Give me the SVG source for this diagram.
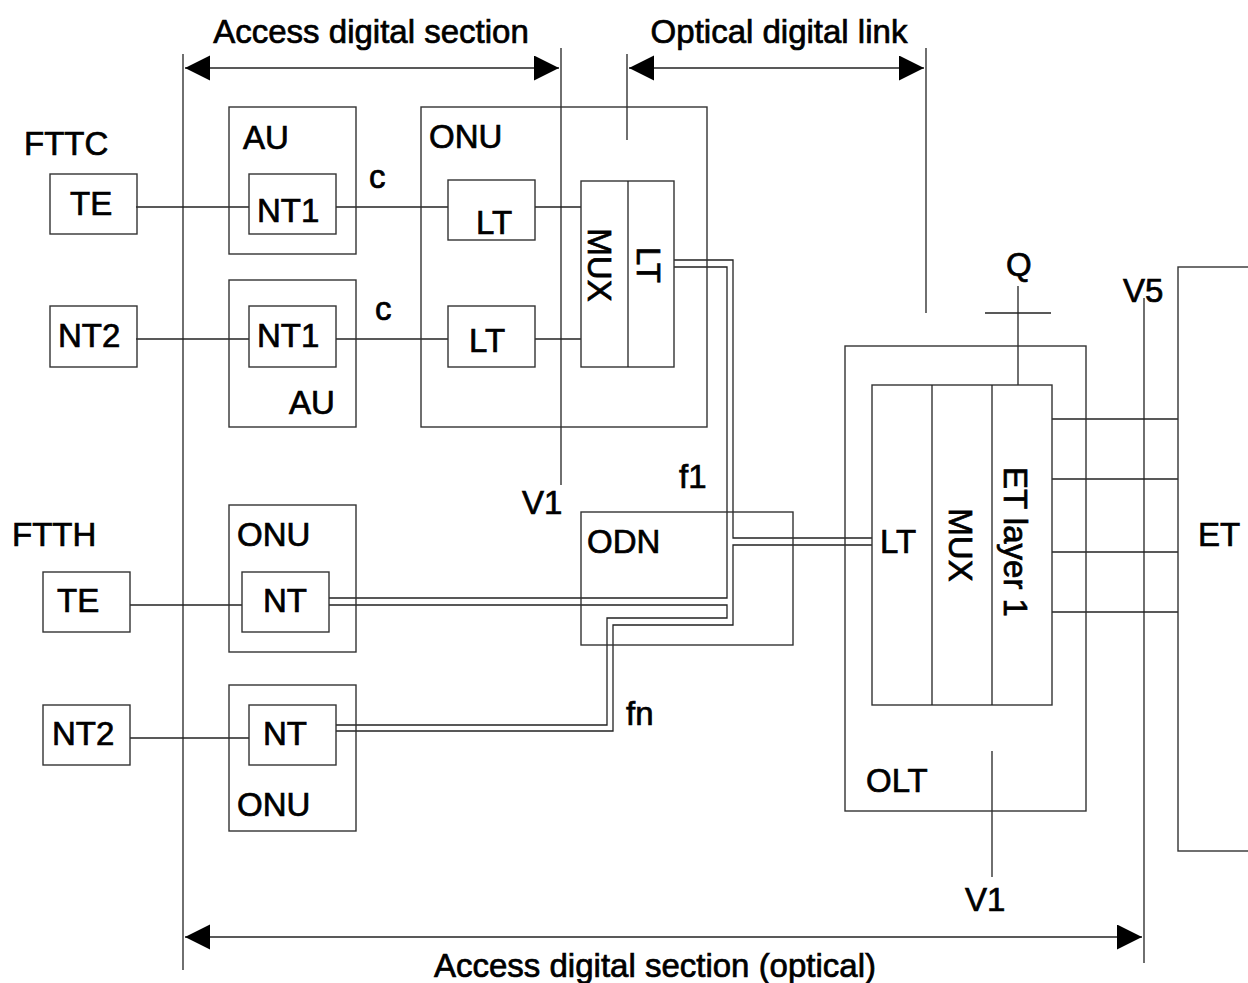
<svg xmlns="http://www.w3.org/2000/svg" width="1248" height="983" viewBox="0 0 1248 983">
<style>
.b{fill:none;stroke:#333;stroke-width:1.4}
.l{fill:none;stroke:#222;stroke-width:1.3}
.t{font-family:"Liberation Sans",Arial,sans-serif;font-size:33px;fill:#000;stroke:#000;stroke-width:0.7}
.m{text-anchor:middle}
</style>
<defs>
<marker id="arr" markerUnits="userSpaceOnUse" markerWidth="26" markerHeight="26" refX="25" refY="12.5" orient="auto-start-reverse">
<path d="M0,0 L25,12.5 L0,25 Z" fill="#000"/>
</marker>
</defs>
<rect width="1248" height="983" fill="#fff"/>

<g id="dimensions">
<line class="l" x1="183" y1="54" x2="183" y2="970"/>
<line class="l" x1="561" y1="48" x2="561" y2="485"/>
<line class="l" x1="627" y1="54" x2="627" y2="140"/>
<line class="l" x1="926" y1="48" x2="926" y2="313"/>
<line class="l" x1="1144" y1="298" x2="1144" y2="963"/>
<line class="l" x1="185" y1="68" x2="559" y2="68" marker-start="url(#arr)" marker-end="url(#arr)"/>
<line class="l" x1="629" y1="68" x2="924" y2="68" marker-start="url(#arr)" marker-end="url(#arr)"/>
<line class="l" x1="185" y1="937" x2="1142" y2="937" marker-start="url(#arr)" marker-end="url(#arr)"/>
<text class="t m" x="371" y="43">Access digital section</text>
<text class="t m" x="779" y="43">Optical digital link</text>
<text class="t m" x="655" y="977">Access digital section (optical)</text>
<text class="t" x="24" y="155">FTTC</text>
<text class="t" x="12" y="546">FTTH</text>
<text class="t" x="522" y="514">V1</text>
<text class="t" x="965" y="911">V1</text>
<text class="t" x="1123" y="302">V5</text>
<text class="t" x="369" y="188">c</text>
<text class="t" x="375" y="320">c</text>
<text class="t" x="679" y="488">f1</text>
<text class="t" x="626" y="725">fn</text>
</g>

<g id="connectors">
<line class="l" x1="136" y1="207" x2="249" y2="207"/>
<line class="l" x1="336" y1="207" x2="448" y2="207"/>
<line class="l" x1="535" y1="207" x2="581" y2="207"/>
<line class="l" x1="136" y1="339" x2="249" y2="339"/>
<line class="l" x1="336" y1="339" x2="448" y2="339"/>
<line class="l" x1="535" y1="339" x2="581" y2="339"/>
<line class="l" x1="130" y1="605" x2="242" y2="605"/>
<line class="l" x1="130" y1="738" x2="249" y2="738"/>
<polyline class="l" points="674,260 733,260 733,538 872,538"/>
<polyline class="l" points="674,267 727,267 727,598 329,598"/>
<polyline class="l" points="329,605 727,605 727,618 607,618 607,725 336,725"/>
<polyline class="l" points="872,545 733,545 733,625 613,625 613,731 336,731"/>
<line class="l" x1="1052" y1="419" x2="1178" y2="419"/>
<line class="l" x1="1052" y1="479" x2="1178" y2="479"/>
<line class="l" x1="1052" y1="552" x2="1178" y2="552"/>
<line class="l" x1="1052" y1="612" x2="1178" y2="612"/>
<line class="l" x1="1018" y1="286" x2="1018" y2="385"/>
<line class="l" x1="985" y1="313" x2="1051" y2="313"/>
<line class="l" x1="992" y1="751" x2="992" y2="877"/>
<text class="t" x="1006" y="276">Q</text>
</g>

<g id="te1"><rect class="b" x="50" y="174" width="87" height="60"/><text class="t" x="70" y="215">TE</text></g>
<g id="nt2a"><rect class="b" x="50" y="306" width="87" height="61"/><text class="t" x="58" y="347">NT2</text></g>
<g id="au1"><rect class="b" x="229" y="107" width="127" height="147"/><text class="t" x="243" y="149">AU</text></g>
<g id="nt1a"><rect class="b" x="249" y="174" width="87" height="60"/><text class="t" x="257" y="222">NT1</text></g>
<g id="au2"><rect class="b" x="229" y="280" width="127" height="147"/><text class="t" x="289" y="414">AU</text></g>
<g id="nt1b"><rect class="b" x="249" y="306" width="87" height="61"/><text class="t" x="257" y="347">NT1</text></g>

<g id="onu-fttc"><rect class="b" x="421" y="107" width="286" height="320"/><text class="t" x="429" y="148">ONU</text></g>
<g id="lt1"><rect class="b" x="448" y="180" width="87" height="60"/><text class="t" x="476" y="234">LT</text></g>
<g id="lt2"><rect class="b" x="448" y="306" width="87" height="61"/><text class="t" x="469" y="352">LT</text></g>
<g id="mux-lt"><rect class="b" x="581" y="181" width="93" height="186"/><line class="l" x1="628" y1="181" x2="628" y2="367"/>
<text class="t m" transform="translate(588,265) rotate(90)">MUX</text>
<text class="t m" transform="translate(637,265) rotate(90)">LT</text></g>

<g id="onu-ftth1"><rect class="b" x="229" y="505" width="127" height="147"/><text class="t" x="237" y="546">ONU</text></g>
<g id="te2"><rect class="b" x="43" y="572" width="87" height="60"/><text class="t" x="57" y="612">TE</text></g>
<g id="nt-a"><rect class="b" x="242" y="572" width="87" height="60"/><text class="t" x="263" y="612">NT</text></g>
<g id="onu-ftth2"><rect class="b" x="229" y="685" width="127" height="146"/><text class="t" x="237" y="816">ONU</text></g>
<g id="nt2b"><rect class="b" x="43" y="705" width="87" height="60"/><text class="t" x="52" y="745">NT2</text></g>
<g id="nt-b"><rect class="b" x="249" y="705" width="87" height="60"/><text class="t" x="263" y="745">NT</text></g>

<g id="odn"><rect class="b" x="581" y="512" width="212" height="133"/><text class="t" x="587" y="553">ODN</text></g>

<g id="olt"><rect class="b" x="845" y="346" width="241" height="465"/><text class="t" x="866" y="792">OLT</text>
<rect class="b" x="872" y="385" width="180" height="320"/>
<line class="l" x1="932" y1="385" x2="932" y2="705"/>
<line class="l" x1="992" y1="385" x2="992" y2="705"/>
<text class="t" x="880" y="553">LT</text>
<text class="t m" transform="translate(949,545) rotate(90)">MUX</text>
<text class="t m" transform="translate(1004,542) rotate(90)">ET layer 1</text></g>

<g id="et"><rect class="b" x="1178" y="267" width="100" height="584"/><text class="t" x="1198" y="546">ET</text></g>
</svg>
